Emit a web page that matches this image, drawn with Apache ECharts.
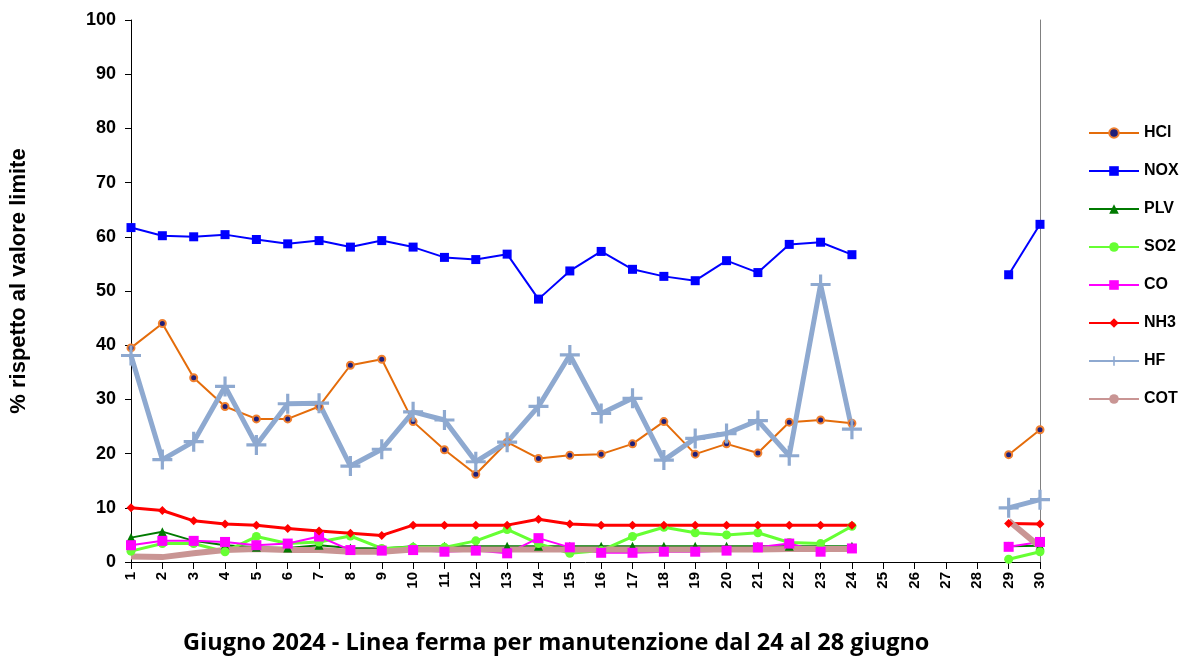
<!DOCTYPE html>
<html>
<head>
<meta charset="utf-8">
<script src="https://cdn.jsdelivr.net/npm/echarts@6/dist/echarts.min.js"></script>
<style>
  html, body { margin: 0; padding: 0; background: #fff; }
  #chart { width: 1182px; height: 662px; }
</style>
</head>
<body>
<div id="chart"></div>
<script>
// giorni di giugno
var giorni = [];
for (var d = 1; d <= 30; d++) giorni.push(String(d));

var yTicks = [0, 10, 20, 30, 40, 50, 60, 70, 80, 90, 100];

// valori in % rispetto al limite, '-' = linea ferma
var hcl = [39.5, 44.0, 34.0, 28.7, 26.4, 26.4, 28.7, 36.3, 37.4, 25.9, 20.7, 16.2, 22.1, 19.1, 19.7, 19.9, 21.8, 25.9, 19.9, 21.8, 20.1, 25.8, 26.2, 25.6, '-', '-', '-', '-', 19.8, 24.4];
var nox = [61.7, 60.2, 60.0, 60.4, 59.5, 58.7, 59.3, 58.1, 59.3, 58.1, 56.2, 55.8, 56.8, 48.5, 53.7, 57.3, 54.0, 52.7, 51.9, 55.6, 53.4, 58.6, 59.0, 56.7, '-', '-', '-', '-', 53.0, 62.3];
var plv = [4.5, 5.6, 3.9, 3.1, 2.7, 2.6, 3.1, 2.6, 2.5, 2.9, 2.9, 2.9, 2.9, 2.9, 2.9, 2.9, 2.9, 2.9, 2.9, 2.9, 2.9, 2.9, 2.9, 2.9, '-', '-', '-', '-', 2.9, 3.0];
var so2 = [2.0, 3.4, 3.4, 1.9, 4.7, 3.4, 3.7, 4.8, 2.5, 2.7, 2.7, 3.9, 6.0, 3.4, 1.6, 2.1, 4.7, 6.4, 5.4, 5.0, 5.4, 3.6, 3.4, 6.6, '-', '-', '-', '-', 0.5, 1.9];
var co = [3.1, 3.9, 3.9, 3.7, 3.1, 3.4, 4.7, 2.2, 2.1, 2.2, 1.9, 2.1, 1.6, 4.4, 2.7, 1.7, 1.7, 1.9, 1.9, 2.1, 2.7, 3.4, 1.9, 2.5, '-', '-', '-', '-', 2.8, 3.7];
var nh3 = [10.0, 9.5, 7.6, 7.0, 6.8, 6.2, 5.7, 5.3, 4.9, 6.8, 6.8, 6.8, 6.8, 7.9, 7.0, 6.8, 6.8, 6.8, 6.8, 6.8, 6.8, 6.8, 6.8, 6.8, '-', '-', '-', '-', 7.1, 7.0];
var hf = [38.1, 18.9, 22.2, 32.4, 21.6, 29.2, 29.3, 17.7, 20.8, 27.7, 26.2, 18.5, 22.1, 28.7, 38.2, 27.4, 30.2, 18.8, 22.8, 23.7, 26.1, 19.6, 51.2, 24.5, '-', '-', '-', '-', 10.0, 11.5];
var cot = [1.0, 0.9, 1.6, 2.2, 2.4, 2.2, 2.2, 1.9, 1.9, 2.3, 2.3, 2.3, 2.3, 2.3, 2.3, 2.3, 2.3, 2.3, 2.3, 2.3, 2.3, 2.4, 2.4, 2.4, '-', '-', '-', '-', 7.6, 2.8];

var plus = 'path://M4.2,0 H5.8 V4.2 H10 V5.8 H5.8 V10 H4.2 V5.8 H0 V4.2 H4.2 Z';

var chart = echarts.init(document.getElementById('chart'));

function serie(nome, dati, colore, larghezza, simbolo, size, extra) {
    var s = {
        name: nome,
        type: 'line',
        data: dati,
        connectNulls: false,
        symbol: simbolo,
        symbolSize: size,
        showAllSymbol: true,
        lineStyle: { color: colore, width: larghezza },
        itemStyle: { color: colore },
        emphasis: { disabled: true },
        animation: false
    };
    if (extra) Object.assign(s.itemStyle, extra);
    return s;
}

var option = {
    backgroundColor: '#fff',
    textStyle: { fontFamily: 'Liberation Sans' },
    grid: {
        left: 131,
        right: 142,
        top: 20,
        bottom: 100
    },
    legend: {
        orient: 'vertical',
        left: 1083,
        top: 120,
        itemWidth: 50,
        itemHeight: 12,
        itemGap: 22,
        textStyle: { fontSize: 16, fontWeight: 'bold', color: '#000', fontFamily: 'Liberation Sans' },
        data: ['HCl', 'NOX', 'PLV', 'SO2', 'CO', 'NH3', 'HF', 'COT']
    },
    graphic: [{
        type: 'text',
        left: 183,
        top: 631,
        style: {
            text: 'Giugno 2024 - Linea ferma per manutenzione dal 24 al 28 giugno',
            font: 'bold 23.5px "Open Sans"',
            fill: '#000'
        }
    }, {
        type: 'text',
        x: 8,
        y: 281,
        rotation: Math.PI / 2,
        style: {
            text: '% rispetto al valore limite',
            font: 'bold 22px "Liberation Sans"',
            fill: '#000',
            align: 'center',
            verticalAlign: 'top'
        }
    }],
    xAxis: {
        type: 'category',
        data: giorni,
        boundaryGap: false,
        axisLine: { lineStyle: { color: '#000', width: 1 } },
        axisTick: { alignWithLabel: true, length: 7, lineStyle: { color: '#000' } },
        axisLabel: {
            rotate: 90,
            interval: 0,
            margin: 10,
            fontSize: 15,
            fontWeight: 'bold',
            color: '#000'
        }
    },
    yAxis: [{
        type: 'value',
        min: yTicks[0],
        max: yTicks[yTicks.length - 1],
        interval: 10,
        axisLine: { show: true, lineStyle: { color: '#000' } },
        axisTick: { show: true, length: 6, lineStyle: { color: '#000' } },
        splitLine: { show: false },
        axisLabel: { fontSize: 18, fontWeight: 'bold', color: '#000', margin: 15 }
    }, {
        type: 'value',
        position: 'right',
        min: 0,
        max: 100,
        interval: 10,
        axisLine: { show: true, lineStyle: { color: '#808080' } },
        axisTick: { show: false },
        axisLabel: { show: false },
        splitLine: { show: false }
    }],
    series: [
        serie('HCl', hcl, '#E46C0A', 2, 'circle', 7, { color: '#1F1F7A', borderColor: '#F08030', borderWidth: 2 }),
        serie('NOX', nox, '#0000FF', 2, 'rect', 9),
        serie('PLV', plv, '#007A00', 2, 'triangle', 9),
        serie('SO2', so2, '#66FF33', 3, 'circle', 9),
        serie('CO', co, '#FF00FF', 2, 'rect', 10),
        serie('NH3', nh3, '#FF0000', 3, 'diamond', 9),
        serie('HF', hf, '#8EA9D0', 5, plus, 20),
        serie('COT', cot, '#C99594', 6, 'none', 0)
    ]
};

chart.setOption(option);
</script>
</body>
</html>
